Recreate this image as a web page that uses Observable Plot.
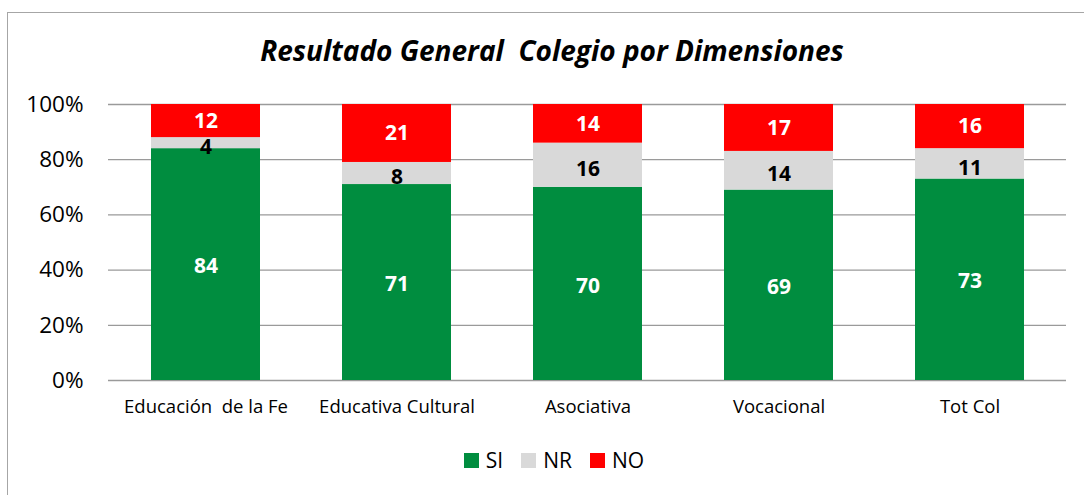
<!DOCTYPE html>
<html>
<head>
<meta charset="utf-8">
<script src="https://cdn.jsdelivr.net/npm/d3@7"></script>
<script src="https://cdn.jsdelivr.net/npm/@observablehq/plot@0.6"></script>
<style>
  html, body { margin: 0; padding: 0; background: #fff; }
  #wrap { position: relative; width: 1084px; height: 495px; overflow: hidden; font-family: "Open Sans", Lato, sans-serif; }
  #frame { position: absolute; left: 7px; top: 12px; width: 1200px; height: 600px; border-left: 1px solid #a6a6a6; border-top: 1px solid #a6a6a6; }
  #title { position: absolute; left: 10px; width: 1084px; top: 31px; text-align: center; font-size: 28px; font-weight: bold; font-style: italic; color: #000; white-space: pre; }
  #chart { position: absolute; left: 0; top: 0; }
  #legend { position: absolute; left: 12px; width: 1084px; top: 446px; display: flex; justify-content: center; align-items: center; font-size: 21px; color: #000; }
  .item { display: flex; align-items: center; margin: 0 9px; }
  .sw { width: 15px; height: 15px; margin-right: 7px; }
</style>
</head>
<body>
<div id="wrap">
  <div id="frame"></div>
  <div id="chart"></div>
  <div id="title">Resultado General  Colegio por Dimensiones</div>
  <div id="legend"></div>
</div>
<script>
const categories = ["Educación  de la Fe", "Educativa Cultural", "Asociativa", "Vocacional", "Tot Col"];
const series = ["SI", "NR", "NO"];
const siValues = [84, 71, 70, 69, 73];
const nrValues = [4, 8, 16, 14, 11];
const noValues = [12, 21, 14, 17, 16];
const yTicks = [0, 20, 40, 60, 80, 100];
const colors = {SI: "#008d3f", NR: "#d9d9d9", NO: "#ff0000"};
const labelColors = {SI: "#ffffff", NR: "#000000", NO: "#ffffff"};
const labelNudge = {SI: 2, NR: 4, NO: 0};

const valuesBySeries = {SI: siValues, NR: nrValues, NO: noValues};
const table = [];
categories.forEach((c, i) => {
  series.forEach(s => table.push({category: c, series: s, value: valuesBySeries[s][i]}));
});

const stackOpts = {x: "category", y: "value", z: "series", order: series};

const labelMarks = series.map(s =>
  Plot.text(table, Plot.stackY({
    ...stackOpts,
    text: d => d.series === s ? String(d.value) : null,
    fill: labelColors[s],
    fontSize: 21,
    fontWeight: "bold",
    dy: labelNudge[s]
  }))
);

const chart = Plot.plot({
  width: 1084,
  height: 495,
  marginTop: 104,
  marginBottom: 115,
  marginLeft: 108,
  marginRight: 18,
  style: {fontFamily: "'Open Sans', Lato, sans-serif", background: "transparent", overflow: "visible"},
  x: {domain: categories, paddingInner: 0.43, paddingOuter: 0.215, label: null},
  y: {domain: [0, 100], label: null},
  color: {domain: series, range: series.map(s => colors[s])},
  marks: [
    Plot.ruleY(yTicks, {stroke: "#9a9a9a", strokeWidth: 1.3}),
    Plot.barY(table, Plot.stackY({...stackOpts, fill: "series"})),
    ...labelMarks,
    Plot.axisY({ticks: yTicks, tickFormat: d => d + "%", tickSize: 0, tickPadding: 25, fontSize: 22.5, fill: "#000"}),
    Plot.axisX({tickSize: 0, tickPadding: 19, fontSize: 18.5, fill: "#000"})
  ]
});
document.getElementById("chart").appendChild(chart);

const legend = document.getElementById("legend");
series.forEach(s => {
  const it = document.createElement("div");
  it.className = "item";
  const sw = document.createElement("div");
  sw.className = "sw";
  sw.style.background = colors[s];
  const t = document.createElement("span");
  t.textContent = s;
  it.appendChild(sw);
  it.appendChild(t);
  legend.appendChild(it);
});
</script>
</body>
</html>
